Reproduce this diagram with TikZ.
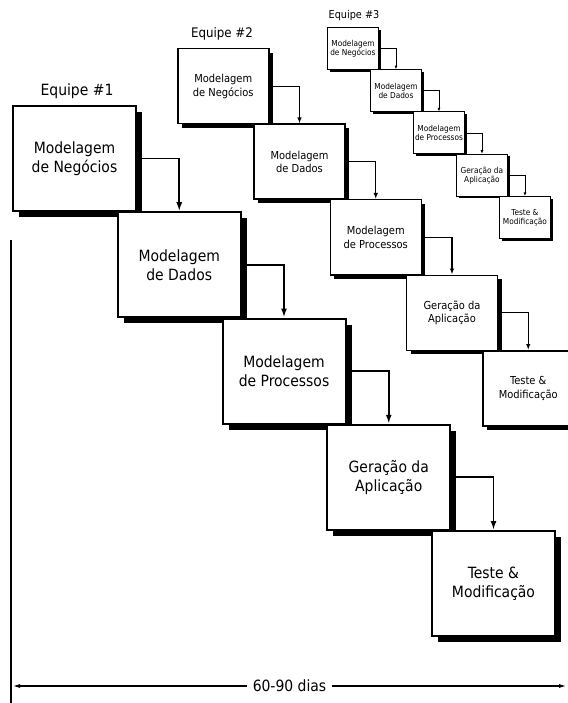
\documentclass[tikz,border=0pt]{standalone}
\usepackage{fontspec}
\setmainfont{DejaVu Sans Condensed}
\usetikzlibrary{arrows.meta,shadows}
\tikzset{
  boxbase/.style={draw, fill=white, inner sep=0pt, anchor=north west, align=center},
  bigbox/.style={boxbase, line width=2pt, minimum width=123pt, minimum height=105pt,
    font=\fontsize{15.5}{19}\selectfont,
    general shadow={fill=black, shadow xshift=6pt, shadow yshift=-6pt}},
  midbox/.style={boxbase, line width=1.5pt, minimum width=91pt, minimum height=75pt,
    font=\fontsize{11}{13.5}\selectfont,
    general shadow={fill=black, shadow xshift=4pt, shadow yshift=-4pt}},
  smallbox/.style={boxbase, line width=0.9pt, minimum width=51pt, minimum height=42pt,
    font=\fontsize{8.2}{9}\selectfont,
    general shadow={fill=black, shadow xshift=2.2pt, shadow yshift=-2.2pt}},
  bigarrow/.style={line width=1.8pt, -{Latex[length=9pt,width=6pt]}},
  midarrow/.style={line width=1.3pt, -{Latex[length=6pt,width=4.5pt]}},
  smallarrow/.style={line width=0.8pt, -{Latex[length=3.5pt,width=2.8pt]}},
  teamlabel/.style={inner sep=0pt},
}
\begin{document}
\begin{tikzpicture}[x=1pt,y=-1pt]
\useasboundingbox (0,0) rectangle (567,703);
% Team 3
\node[teamlabel, font=\fontsize{10.8}{12}\selectfont] (t3) at (354,16) {Equipe \#3};
\node[smallbox] (c1) at (327,27)  {Modelagem\\de Negócios};
\node[smallbox] (c2) at (370,69.25) {Modelagem\\de Dados};
\node[smallbox] (c3) at (413,111.5) {Modelagem\\de Processos};
\node[smallbox] (c4) at (456,153.75) {Geração da\\Aplicação};
\node[smallbox] (c5) at (499,196) {Teste \&\\Modificação};
\draw[smallarrow] (c1.east) -| (c2.north);
\draw[smallarrow] (c2.east) -| (c3.north);
\draw[smallarrow] (c3.east) -| (c4.north);
\draw[smallarrow] (c4.east) -| (c5.north);
% Team 2
\node[teamlabel, font=\fontsize{13.2}{15}\selectfont] (t2) at (222,34) {Equipe \#2};
\node[midbox] (b1) at (177,48)  {Modelagem\\de Negócios};
\node[midbox] (b2) at (253.25,123.5) {Modelagem\\de Dados};
\node[midbox] (b3) at (329.5,199) {Modelagem\\de Processos};
\node[midbox] (b4) at (405.75,274.5) {Geração da\\Aplicação};
\node[midbox] (b5) at (482,350) {Teste \&\\Modificação};
\draw[midarrow] (b1.east) -| (b2.north);
\draw[midarrow] (b2.east) -| (b3.north);
\draw[midarrow] (b3.east) -| (b4.north);
\draw[midarrow] (b4.east) -| (b5.north);
% Team 1
\node[teamlabel, font=\fontsize{15.5}{18}\selectfont] (t1) at (77,91) {Equipe \#1};
\node[bigbox] (a1) at (12,105)  {Modelagem\\de Negócios};
\node[bigbox] (a2) at (116.75,211.25) {Modelagem\\de Dados};
\node[bigbox] (a3) at (221.5,317.5) {Modelagem\\de Processos};
\node[bigbox] (a4) at (326.25,423.75) {Geração da\\Aplicação};
\node[bigbox] (a5) at (431,530) {Teste \&\\Modificação};
\draw[bigarrow] (a1.east) -| (a2.north);
\draw[bigarrow] (a2.east) -| (a3.north);
\draw[bigarrow] (a3.east) -| (a4.north);
\draw[bigarrow] (a4.east) -| (a5.north);
% time axis
\coordinate (vtop) at (11,240);
\coordinate (vbot) at (11,703);
\coordinate (hl) at (12,686);
\coordinate (hr) at (567,686);
\draw[line width=2pt] (vtop) -- (vbot);
\draw[line width=1.5pt, {Latex[length=8pt,width=4pt]}-{Latex[length=8pt,width=4pt]}] (hl) --
  node[fill=white, inner xsep=6pt, inner ysep=2pt, font=\fontsize{15.5}{18}\selectfont, pos=0.5] (dur) {60-90 dias} (hr);
\end{tikzpicture}
\end{document}
